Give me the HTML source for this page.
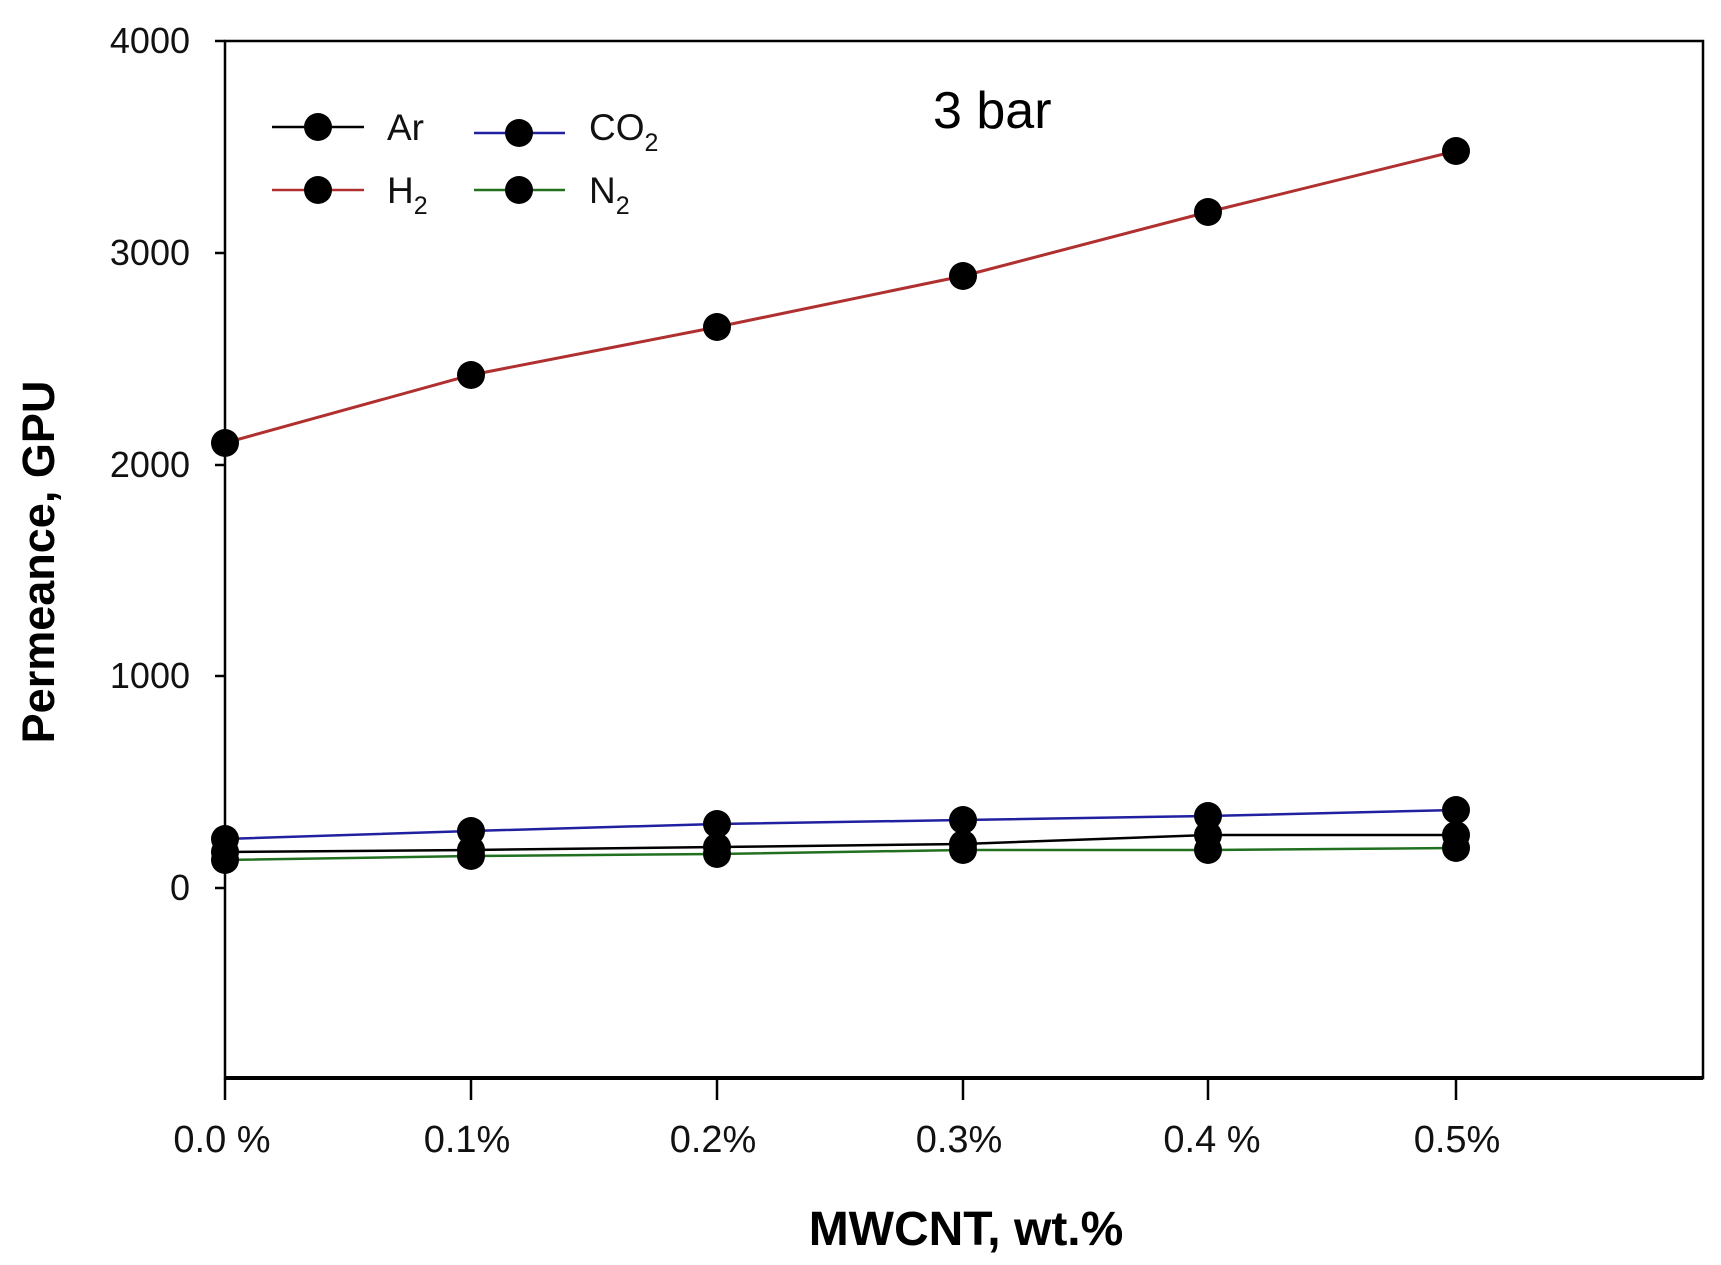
<!DOCTYPE html>
<html><head><meta charset="utf-8"><style>body{margin:0;background:#fff}</style></head><body>
<svg width="1721" height="1260" xmlns="http://www.w3.org/2000/svg" font-family="Liberation Sans, sans-serif">
<rect width="1721" height="1260" fill="#fff"/>
<rect x="225" y="41" width="1478" height="1037" fill="none" stroke="#000" stroke-width="2.5"/>
<line x1="225" y1="1078" x2="1703" y2="1078" stroke="#000" stroke-width="4"/>
<g stroke="#000" stroke-width="2.5">
<line x1="215" y1="41" x2="225" y2="41"/><line x1="215" y1="253" x2="225" y2="253"/><line x1="215" y1="465" x2="225" y2="465"/><line x1="215" y1="676" x2="225" y2="676"/><line x1="215" y1="888" x2="225" y2="888"/>
<line x1="225" y1="1078" x2="225" y2="1100"/><line x1="471" y1="1078" x2="471" y2="1100"/><line x1="717" y1="1078" x2="717" y2="1100"/><line x1="963" y1="1078" x2="963" y2="1100"/><line x1="1208" y1="1078" x2="1208" y2="1100"/><line x1="1456" y1="1078" x2="1456" y2="1100"/>
</g>
<g font-size="36" text-anchor="end" fill="#111">
<text x="190" y="53">4000</text><text x="190" y="265">3000</text><text x="190" y="477">2000</text><text x="190" y="688">1000</text><text x="190" y="900">0</text>
</g>
<g font-size="38" text-anchor="middle" fill="#111">
<text x="222" y="1152">0.0 %</text><text x="467" y="1152">0.1%</text><text x="713" y="1152">0.2%</text><text x="959" y="1152">0.3%</text><text x="1212" y="1152">0.4 %</text><text x="1457" y="1152">0.5%</text>
</g>
<text x="966" y="1245" font-size="48" font-weight="bold" text-anchor="middle">MWCNT, wt.%</text>
<text transform="translate(54,562) rotate(-90)" font-size="45" font-weight="bold" text-anchor="middle">Permeance, GPU</text>
<text x="933" y="128" font-size="52">3 bar</text>
<g fill="none">
<polyline stroke="#b03030" stroke-width="3" points="225,443 471,375 717,327 963,276 1208,212 1456,151"/>
<polyline stroke="#2020a0" stroke-width="2.5" points="225,839 471,831 717,824 963,820 1208,816 1456,810"/>
<polyline stroke="#000" stroke-width="2.5" points="225,852 471,850 717,847 963,844 1208,835 1456,835"/>
<polyline stroke="#207020" stroke-width="2.5" points="225,860 471,856 717,854 963,850 1208,850 1456,848"/>
</g>
<g fill="#000">
<circle cx="225" cy="443" r="14"/><circle cx="471" cy="375" r="14"/><circle cx="717" cy="327" r="14"/><circle cx="963" cy="276" r="14"/><circle cx="1208" cy="212" r="14"/><circle cx="1456" cy="151" r="14"/>
<circle cx="225" cy="839" r="14"/><circle cx="471" cy="831" r="14"/><circle cx="717" cy="824" r="14"/><circle cx="963" cy="820" r="14"/><circle cx="1208" cy="816" r="14"/><circle cx="1456" cy="810" r="14"/>
<circle cx="225" cy="852" r="14"/><circle cx="471" cy="850" r="14"/><circle cx="717" cy="847" r="14"/><circle cx="963" cy="844" r="14"/><circle cx="1208" cy="835" r="14"/><circle cx="1456" cy="835" r="14"/>
<circle cx="225" cy="860" r="14"/><circle cx="471" cy="856" r="14"/><circle cx="717" cy="854" r="14"/><circle cx="963" cy="850" r="14"/><circle cx="1208" cy="850" r="14"/><circle cx="1456" cy="848" r="14"/>
</g>
<g stroke-width="2.5">
<line x1="272" y1="127" x2="364" y2="127" stroke="#000"/><circle cx="318" cy="127" r="14" fill="#000"/>
<line x1="474" y1="133" x2="565" y2="133" stroke="#2020a0"/><circle cx="519" cy="133" r="14" fill="#000"/>
<line x1="272" y1="190" x2="364" y2="190" stroke="#b03030"/><circle cx="318" cy="190" r="14" fill="#000"/>
<line x1="474" y1="190" x2="565" y2="190" stroke="#207020"/><circle cx="519" cy="190" r="14" fill="#000"/>
</g>
<g font-size="37" fill="#111">
<text x="387" y="140">Ar</text>
<text x="589" y="140">CO<tspan font-size="25" dy="11">2</tspan></text>
<text x="387" y="203">H<tspan font-size="25" dy="11">2</tspan></text>
<text x="589" y="203">N<tspan font-size="25" dy="11">2</tspan></text>
</g>
</svg>
</body></html>
